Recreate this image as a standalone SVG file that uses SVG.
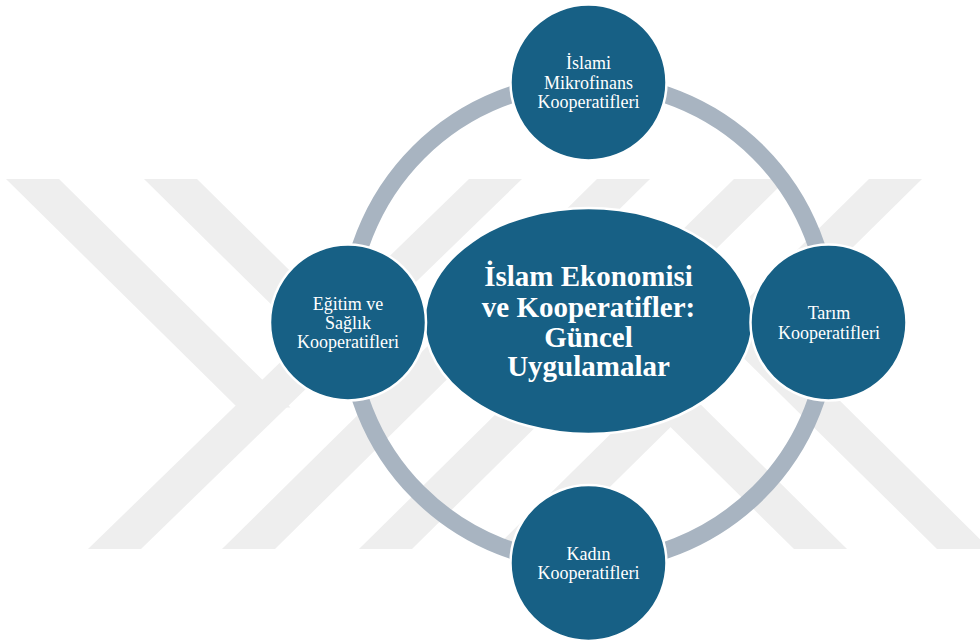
<svg xmlns="http://www.w3.org/2000/svg" width="980" height="644" viewBox="0 0 980 644">
  <style>
    .wm { fill: #eeeeee; }
    .ring { fill: none; stroke: #a8b4c1; stroke-width: 17; }
    .node { fill: #176085; stroke: #ffffff; stroke-width: 2.5; }
    .lbl { font-family: "Liberation Serif", "Times New Roman", serif; font-size: 18px; fill: #ffffff; text-anchor: middle; }
    .title { font-family: "Liberation Serif", "Times New Roman", serif; font-size: 29px; font-weight: bold; fill: #ffffff; text-anchor: middle; }
  </style>
  <rect x="0" y="0" width="980" height="644" fill="#ffffff"/>
  <g id="watermark">
    <polygon class="wm" points="469,179 522,179 141,549 88,549"/>
    <polygon class="wm" points="597,179 650,179 275,549 222,549"/>
    <polygon class="wm" points="734,179 787,179 412,549 359,549"/>
    <polygon class="wm" points="869,179 922,179 547,549 494,549"/>
    <polygon class="wm" points="6,179 59,179 290.5,407.5 237.5,407.5"/>
    <polygon class="wm" points="144,179 197,179 423.5,402.6 370.5,402.6"/>
    <polygon class="wm" points="794,549 847,549 629.5,334.3 576.5,334.3"/>
    <polygon class="wm" points="937,549 990,549 768.5,330.3 715.5,330.3"/>
  </g>
  <g id="connectors">
    <circle class="ring" cx="588.5" cy="322.5" r="240.5"/>
  </g>
  <g id="center">
    <ellipse class="node" cx="588.5" cy="321" rx="164" ry="113"/>
    <text class="title" x="588.5" y="286">İslam Ekonomisi</text>
    <text class="title" x="588.5" y="317">ve Kooperatifler:</text>
    <text class="title" x="588.5" y="347">Güncel</text>
    <text class="title" x="588.5" y="376">Uygulamalar</text>
  </g>
  <g id="node-top">
    <circle class="node" cx="588.5" cy="82.5" r="78"/>
    <text class="lbl" x="588.5" y="69">İslami</text>
    <text class="lbl" x="588.5" y="89">Mikrofinans</text>
    <text class="lbl" x="588.5" y="108">Kooperatifleri</text>
  </g>
  <g id="node-right">
    <circle class="node" cx="828.5" cy="322.5" r="78"/>
    <text class="lbl" x="829" y="319">Tarım</text>
    <text class="lbl" x="829" y="339">Kooperatifleri</text>
  </g>
  <g id="node-bottom">
    <circle class="node" cx="588.5" cy="563" r="78"/>
    <text class="lbl" x="588.5" y="560">Kadın</text>
    <text class="lbl" x="588.5" y="579">Kooperatifleri</text>
  </g>
  <g id="node-left">
    <circle class="node" cx="348" cy="322.5" r="78"/>
    <text class="lbl" x="348" y="310">Eğitim ve</text>
    <text class="lbl" x="348" y="329">Sağlık</text>
    <text class="lbl" x="348" y="348">Kooperatifleri</text>
  </g>
</svg>
